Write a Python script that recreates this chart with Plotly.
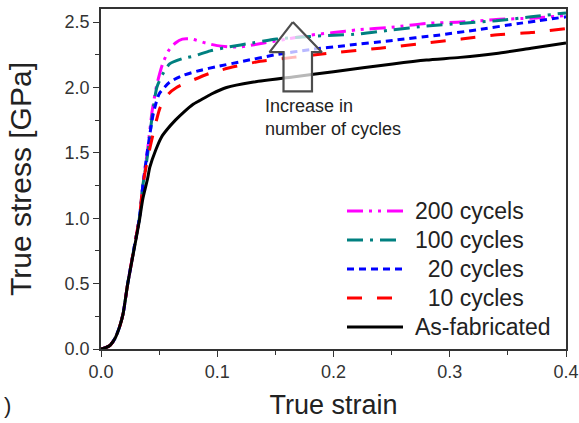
import plotly.graph_objects as go

# ---- data ----
toe_strain = [0.0, 0.004, 0.008, 0.012, 0.016, 0.019, 0.023, 0.028, 0.033, 0.036]
toe_stress = [0.0, 0.01, 0.03, 0.08, 0.17, 0.27, 0.50, 0.75, 1.00, 1.25]

strain_200 = toe_strain + [0.040, 0.044, 0.048, 0.053, 0.058, 0.064, 0.070, 0.078, 0.090, 0.100, 0.110, 0.120, 0.140, 0.160, 0.180, 0.200, 0.220, 0.250, 0.280, 0.310, 0.340, 0.370, 0.400]
stress_200 = toe_stress + [1.52, 1.82, 2.02, 2.18, 2.28, 2.34, 2.37, 2.37, 2.34, 2.32, 2.31, 2.31, 2.34, 2.37, 2.40, 2.42, 2.44, 2.46, 2.49, 2.50, 2.52, 2.53, 2.55]

strain_100 = toe_strain + [0.040, 0.044, 0.048, 0.053, 0.059, 0.070, 0.080, 0.094, 0.110, 0.130, 0.151, 0.180, 0.200, 0.223, 0.250, 0.280, 0.309, 0.340, 0.370, 0.400]
stress_100 = toe_stress + [1.48, 1.78, 2.00, 2.10, 2.18, 2.22, 2.24, 2.28, 2.31, 2.34, 2.37, 2.39, 2.40, 2.41, 2.44, 2.47, 2.49, 2.51, 2.54, 2.57]

strain_20 = toe_strain + [0.040, 0.045, 0.050, 0.059, 0.070, 0.085, 0.100, 0.122, 0.150, 0.180, 0.210, 0.251, 0.290, 0.323, 0.360, 0.400]
stress_20 = toe_stress + [1.52, 1.80, 1.95, 2.04, 2.09, 2.13, 2.16, 2.20, 2.25, 2.29, 2.32, 2.36, 2.40, 2.44, 2.49, 2.54]

strain_10 = toe_strain + [0.040, 0.045, 0.051, 0.058, 0.065, 0.080, 0.094, 0.115, 0.137, 0.165, 0.194, 0.240, 0.280, 0.310, 0.337, 0.370, 0.400]
stress_10 = toe_stress + [1.45, 1.65, 1.85, 1.95, 2.00, 2.06, 2.11, 2.16, 2.20, 2.23, 2.26, 2.30, 2.34, 2.37, 2.40, 2.42, 2.45]

strain_af = [0.0, 0.004, 0.008, 0.012, 0.016, 0.019, 0.023, 0.028, 0.033, 0.036, 0.040, 0.042, 0.047, 0.052, 0.057, 0.064, 0.071, 0.079, 0.085, 0.095, 0.108, 0.130, 0.165, 0.200, 0.251, 0.280, 0.309, 0.340, 0.370, 0.400]
stress_af = [0.0, 0.01, 0.03, 0.08, 0.17, 0.27, 0.50, 0.74, 0.98, 1.15, 1.30, 1.39, 1.52, 1.62, 1.68, 1.75, 1.81, 1.87, 1.90, 1.95, 2.00, 2.04, 2.08, 2.12, 2.18, 2.21, 2.23, 2.26, 2.30, 2.34]

names = ["200 cycels", "100 cycles", "\u00a0\u00a020 cycles", "\u00a0\u00a010 cycles", "As-fabricated"]
colors = ["#ff00ff", "#008080", "#0000ff", "#ff0000", "#000000"]
dashes = ["16px,6px,3px,6px,3px,6px", "16px,7px,3px,7px", "7px,5px", "15px,15px", "solid"]
series_x = [strain_200, strain_100, strain_20, strain_10, strain_af]
series_y = [stress_200, stress_100, stress_20, stress_10, stress_af]

x_ticks = [0.0, 0.1, 0.2, 0.3, 0.4]
y_ticks = [0.0, 0.5, 1.0, 1.5, 2.0, 2.5]

# arrow outline (data coordinates)
arrow_x = [0.165, 0.190, 0.1815, 0.1815, 0.157, 0.157, 0.145, 0.165]
arrow_y = [2.50, 2.27, 2.27, 1.97, 1.97, 2.27, 2.27, 2.50]

W, H = 579, 423
ML, MR, MT, MB = 101, 13, 9, 74
PW, PH = W - ML - MR, H - MT - MB


def px_x(p):
    return (p - ML) / PW


def px_y(p):
    return (H - MB - p) / PH


fig = go.Figure()
for nm, c, d, xs, ys in zip(names, colors, dashes, series_x, series_y):
    fig.add_trace(go.Scatter(x=xs, y=ys, mode="lines", name=nm.strip("\u00a0"),
                             showlegend=False,
                             line=dict(color=c, width=3, dash=d, shape="spline", smoothing=0.6)))

# hollow arrow drawn on top of the curves
fig.add_trace(go.Scatter(x=arrow_x, y=arrow_y, mode="lines", fill="toself",
                         fillcolor="rgba(255,255,255,0.72)", showlegend=False,
                         line=dict(color="#4d4d4d", width=2.2), hoverinfo="skip"))

# legend drawn as key lines + labels (paper coordinates)
for i, (nm, c, d) in enumerate(zip(names, colors, dashes)):
    yy = px_y(211 + 29 * i)
    fig.add_shape(type="line", xref="paper", yref="paper",
                  x0=px_x(347), x1=px_x(403), y0=yy, y1=yy,
                  line=dict(color=c, width=3, dash=d))
    fig.add_annotation(x=px_x(413), y=yy, xref="paper", yref="paper",
                       xanchor="left", yanchor="middle", text=nm, showarrow=False,
                       font=dict(size=23, color="#222222"))

fig.add_annotation(x=0.139, y=1.95, xref="x", yref="y", xanchor="left", yanchor="top",
                   text="Increase in<br>number of cycles", showarrow=False, align="left",
                   font=dict(size=18, color="#222222"))

fig.add_annotation(x=px_x(2), y=px_y(405), xref="paper", yref="paper", xanchor="left", yanchor="middle",
                   text=")", showarrow=False, font=dict(size=22, color="#222222"))

axis_common = dict(showline=True, linecolor="#333333", linewidth=1.5, mirror=True,
                   ticks="outside", ticklen=6, tickwidth=1.2, tickcolor="#333333",
                   showgrid=False, zeroline=False,
                   tickfont=dict(size=18, color="#333333"))

fig.update_xaxes(range=[0, 0.4], tickvals=x_ticks, tickformat=".1f",
                 minor=dict(dtick=0.05, ticks="outside", ticklen=4, tickcolor="#333333"),
                 title=dict(text="True strain", font=dict(size=27, color="#222222"), standoff=14),
                 **axis_common)
fig.update_yaxes(range=[0, 2.6], tickvals=y_ticks, tickformat=".1f",
                 minor=dict(dtick=0.25, ticks="outside", ticklen=4, tickcolor="#333333"),
                 title=dict(text="True stress [GPa]", font=dict(size=30, color="#222222"), standoff=24),
                 **axis_common)

fig.update_layout(
    width=W, height=H,
    margin=dict(l=ML, r=MR, t=MT, b=MB, autoexpand=False),
    paper_bgcolor="white", plot_bgcolor="white",
    font=dict(family="Liberation Sans, Arial, sans-serif"),
    showlegend=False,
)

fig.write_html("out.html")
